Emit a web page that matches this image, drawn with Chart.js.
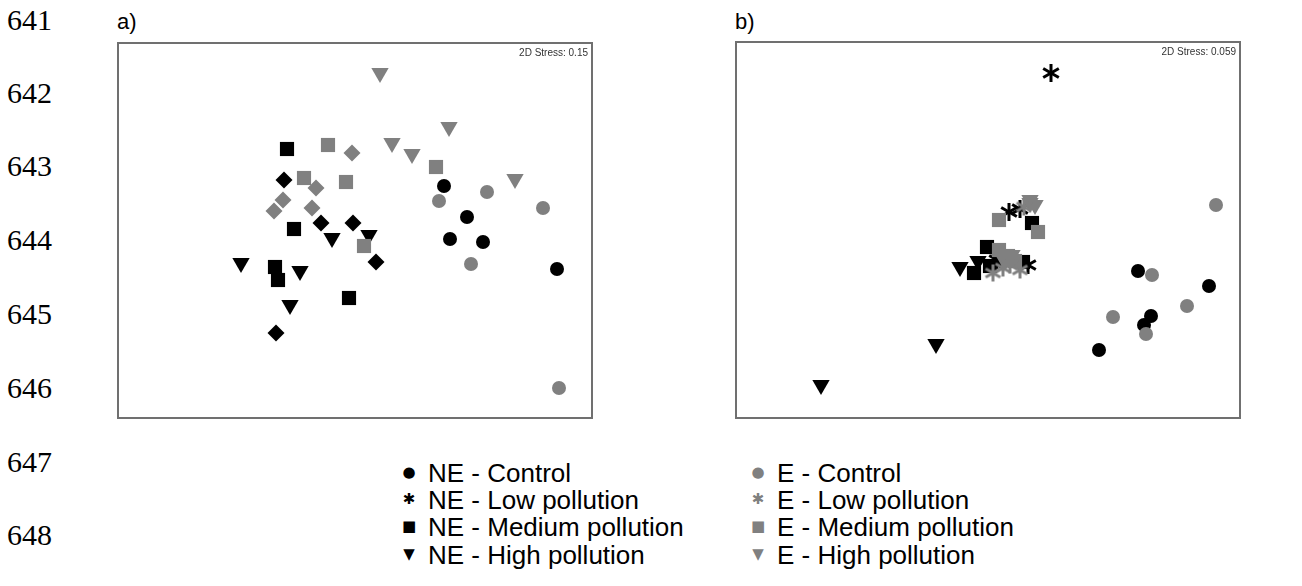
<!DOCTYPE html>
<html>
<head>
<meta charset="utf-8">
<script src="https://cdn.jsdelivr.net/npm/chart.js@4.4.1/dist/chart.umd.min.js"></script>
<style>
body{margin:0;width:1302px;height:586px;background:#fff;position:relative;overflow:hidden;font-family:"Liberation Sans",Arial,sans-serif;color:#000}
.ln{position:absolute;left:7px;font-family:"Liberation Serif","Times New Roman",serif;font-size:30px;line-height:30px}
.lab{position:absolute;font-size:22px;line-height:22px}
.panel{position:absolute}
.leg{position:absolute;font-size:26px;line-height:28px;white-space:nowrap}
.leg span{display:inline-block;width:16px;margin-right:11px;text-align:center;font-family:"DejaVu Sans",sans-serif;vertical-align:middle;line-height:20px;position:relative;top:-3px}
</style>
</head>
<body>
<div class="lab" style="left:117px;top:11px">a)</div>
<div class="lab" style="left:735px;top:11px">b)</div>
<div class="panel" style="left:117px;top:42px"><canvas id="chartA" width="476" height="377"></canvas></div>
<div class="panel" style="left:735px;top:41px"><canvas id="chartB" width="506" height="378"></canvas></div>
<script>
// line numbers of the manuscript page
const lineNums = ["641","642","643","644","645","646","647","648"];
const lineY = [20,93,166,240,314,388,462,535];

const groups = ["NE - Control","NE - Low pollution","NE - Medium pollution","NE - High pollution",
                "E - Control","E - Low pollution","E - Medium pollution","E - High pollution"];

// panel a) MDS coordinates [x, y]
const aNEControl = [[0.90,0.44],[1.13,0.13],[0.96,-0.09],[1.29,-0.12],[2.03,-0.39]];
const aNELow     = [[-0.70,0.50],[-0.33,0.07],[-0.01,0.07],[0.22,-0.32],[-0.78,-1.03]];
const aNEMedium  = [[-0.67,0.81],[-0.60,0.01],[-0.79,-0.37],[-0.76,-0.50],[-0.05,-0.68]];
const aNEHigh    = [[-1.13,-0.33],[-0.22,-0.08],[0.15,-0.05],[-0.54,-0.41],[-0.64,-0.75]];
const aEControl  = [[0.85,0.29],[1.33,0.38],[1.89,0.22],[1.17,-0.34],[2.05,-1.58]];
const aELow      = [[-0.02,0.77],[-0.38,0.42],[-0.42,0.22],[-0.71,0.30],[-0.80,0.19]];
const aEMedium   = [[-0.26,0.85],[-0.50,0.52],[-0.08,0.48],[0.82,0.63],[0.10,-0.16]];
const aEHigh     = [[0.26,1.57],[0.95,1.03],[0.38,0.87],[0.58,0.76],[1.61,0.51]];

// panel b) MDS coordinates [x, y]
const bNEControl = [[1.50,-0.41],[2.21,-0.56],[1.63,-0.86],[1.56,-0.95],[1.11,-1.20]];
const bNELow     = [[0.63,1.57],[0.21,0.18],[0.09,-0.30],[0.32,0.21],[0.40,-0.35]];
const bNEMedium  = [[0.44,0.07],[-0.01,-0.17],[0.35,-0.32],[-0.14,-0.43],[0.02,-0.36]];
const bNEHigh    = [[-0.28,-0.37],[-0.10,-0.31],[-0.52,-1.14],[-1.67,-1.55],[0.12,-0.29]];
const bEControl  = [[1.64,-0.45],[1.99,-0.76],[1.25,-0.87],[1.58,-1.04],[2.28,0.25]];
const bELow      = [[0.05,-0.43],[0.32,-0.40],[0.15,-0.38],[0.36,0.23],[0.22,-0.35]];
const bEMedium   = [[0.11,0.10],[0.50,-0.02],[0.11,-0.20],[0.20,-0.26],[0.27,-0.31]];
const bEHigh     = [[0.42,0.30],[0.47,0.25],[0.24,-0.25],[0.16,-0.30],[0.42,0.27]];

const stressA = "2D Stress: 0.15";
const stressB = "2D Stress: 0.059";

const black = "#000000";
const grey = "#808080";

lineNums.forEach((t,i)=>{
  const d = document.createElement("div");
  d.className = "ln";
  d.style.top = (lineY[i]-15)+"px";
  d.textContent = t;
  document.body.appendChild(d);
});

function asterisk(color,size){
  const c = document.createElement("canvas");
  c.width = c.height = size+2;
  const g = c.getContext("2d");
  g.strokeStyle = color;
  g.lineWidth = 3;
  const m = c.width/2, r = size/2;
  for(let k=0;k<3;k++){
    const a = Math.PI/2 + k*Math.PI/3;
    g.beginPath();
    g.moveTo(m+r*Math.cos(a), m+r*Math.sin(a));
    g.lineTo(m-r*Math.cos(a), m-r*Math.sin(a));
    g.stroke();
  }
  return c;
}

const starBlack = asterisk(black,18);
const starGrey = asterisk(grey,17);

function ds(label,pts,color,style,radius,rotation){
  return {
    label:label,
    data:pts.map(p=>({x:p[0],y:p[1]})),
    backgroundColor:color,
    borderColor:color,
    borderWidth:0,
    pointStyle:style,
    pointRadius:radius,
    pointRotation:rotation||0,
    clip:false
  };
}

const frame = {
  id:"frame",
  beforeDatasetsDraw(chart){
    const c = chart.ctx;
    c.save();
    c.strokeStyle = "#707070";
    c.lineWidth = 2;
    c.strokeRect(1,1,chart.width-2,chart.height-2);
    c.restore();
  },
  afterDraw(chart){
    const c = chart.ctx;
    c.save();
    c.font = "10px 'Liberation Sans', Arial, sans-serif";
    c.fillStyle = "#333";
    c.textAlign = "right";
    c.textBaseline = "middle";
    c.fillText(chart.options.plugins.frame.stress, chart.width-5, 11);
    c.restore();
  }
};

function makeChart(id,sets,xr,yr,stress){
  new Chart(document.getElementById(id),{
    type:"scatter",
    data:{datasets:sets},
    options:{
      responsive:false,
      animation:false,
      events:[],
      layout:{padding:0,autoPadding:false},
      scales:{
        x:{type:"linear",display:false,min:xr[0],max:xr[1]},
        y:{type:"linear",display:false,min:yr[0],max:yr[1]}
      },
      plugins:{legend:{display:false},tooltip:{enabled:false},frame:{stress:stress}}
    },
    plugins:[frame]
  });
}

// first dataset is drawn on top
makeChart("chartA",[
  ds(groups[4],aEControl,grey,"circle",7),
  ds(groups[5],aELow,grey,"rectRot",8.5),
  ds(groups[6],aEMedium,grey,"rect",10),
  ds(groups[7],aEHigh,grey,"triangle",10,180),
  ds(groups[0],aNEControl,black,"circle",7),
  ds(groups[1],aNELow,black,"rectRot",8.5),
  ds(groups[2],aNEMedium,black,"rect",10),
  ds(groups[3],aNEHigh,black,"triangle",10,180)
],[-2.37,2.39],[-1.89,1.88],stressA);

makeChart("chartB",[
  ds(groups[5],bELow,grey,starGrey,8),
  ds(groups[7],bEHigh,grey,"triangle",10,180),
  ds(groups[6],bEMedium,grey,"rect",10),
  ds(groups[4],bEControl,grey,"circle",7),
  ds(groups[1],bNELow,black,starBlack,9),
  ds(groups[0],bNEControl,black,"circle",7),
  ds(groups[2],bNEMedium,black,"rect",10),
  ds(groups[3],bNEHigh,black,"triangle",10,180)
],[-2.53,2.53],[-1.89,1.89],stressB);

// legend
const legSym = ["\u25CF","\u2731","\u25A0","\u25BC"];
const legY = [473,500,527,555];
const legX = [401,750];
groups.forEach((g,i)=>{
  const col = Math.floor(i/4), row = i%4;
  const d = document.createElement("div");
  d.className = "leg";
  d.style.left = legX[col]+"px";
  d.style.top = (legY[row]-14)+"px";
  const s = document.createElement("span");
  s.textContent = legSym[row];
  s.style.color = col ? grey : black;
  s.style.fontSize = "15px";
  d.appendChild(s);
  d.appendChild(document.createTextNode(g));
  document.body.appendChild(d);
});
</script>
</body>
</html>
